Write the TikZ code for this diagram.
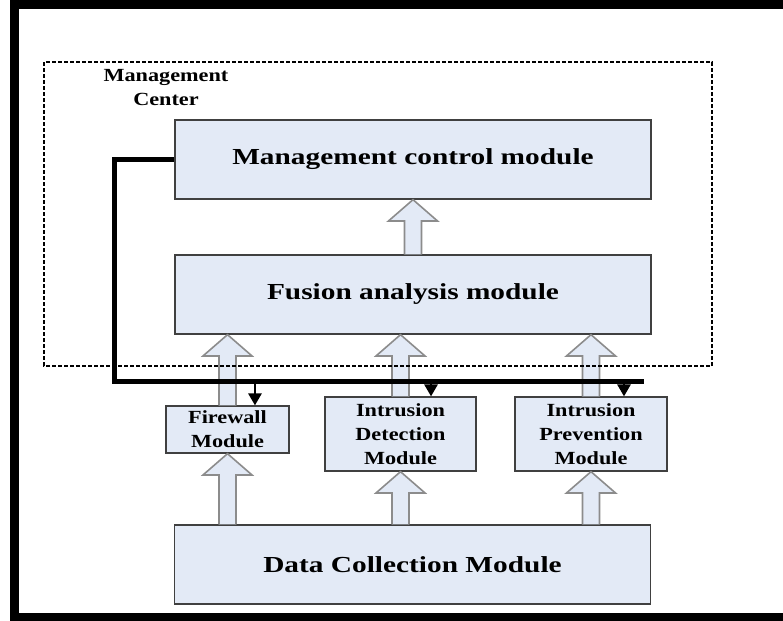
\documentclass[tikz,border=0pt]{standalone}
\usepackage{fontspec}
\usetikzlibrary{calc,arrows.meta}
\newfontfamily\bigserif[FakeStretch=1.28]{Liberation Serif}
\newfontfamily\smallserif[FakeStretch=1.2]{Liberation Serif}
\definecolor{boxfill}{RGB}{227,234,246}
\definecolor{boxline}{RGB}{64,64,64}
\definecolor{arrline}{RGB}{140,140,140}
% hollow block arrow going up from #1 to the tip #2
\newcommand\hollowup[2]{%
  \filldraw[hollow] let \p1=#1, \p2=#2 in
    (\x1-6.4pt,\y1) -- (\x1-6.4pt,\y2-16pt) -- (\x1-18.4pt,\y2-16pt) -- (\x1,\y2)
    -- (\x1+18.4pt,\y2-16pt) -- (\x1+6.4pt,\y2-16pt) -- (\x1+6.4pt,\y1);}
\begin{document}
\begin{tikzpicture}[x=0.75pt,y=-0.75pt,
    bigbox/.style={draw=boxline, fill=boxfill, line width=1pt, inner sep=0pt,
      minimum width=357pt, minimum height=59.25pt, font=\fontsize{17.2}{20}\bigserif\bfseries},
    smallbox/.style={draw=boxline, fill=boxfill, line width=1pt, inner sep=0pt,
      align=center, font=\fontsize{13.9}{18}\smallserif\bfseries},
    hollow/.style={draw=arrline, fill=boxfill, line width=1.2pt},
    bus/.style={line width=3.75pt},
    ctrl/.style={line width=1.5pt, -{Triangle[length=9pt,width=10pt]}}]
        \useasboundingbox (0,0) rectangle (783,621);
        \draw[line width=6.75pt] (790,4.5) -- (14,4.5) -- (14,617) -- (790,617);

        \node[bigbox] (mcm) at (413,159.5) {Management control module};
        \node[bigbox] (fam) at (413,294.5) {Fusion analysis module};
        \node[bigbox] (dcm) at (412.5,564.5) {Data Collection Module};
        \node[smallbox, minimum width=92.25pt, minimum height=35.25pt] (fwm) at (227.5,429.5) {Firewall\\Module};
        \node[smallbox, minimum width=113.25pt, minimum height=55.5pt] (idm) at (400.5,434) {Intrusion\\Detection\\Module};
        \node[smallbox, minimum width=114pt, minimum height=55.5pt] (ipm) at (591,434) {Intrusion\\Prevention\\Module};

        \hollowup{(fam.north)}{(mcm.south)}
        \hollowup{(fwm.north)}{(fwm.north |- fam.south)}
        \hollowup{(idm.north)}{(idm.north |- fam.south)}
        \hollowup{(ipm.north)}{(ipm.north |- fam.south)}
        \hollowup{(fwm.south |- dcm.north)}{(fwm.south)}
        \hollowup{(idm.south |- dcm.north)}{(idm.south)}
        \hollowup{(ipm.south |- dcm.north)}{(ipm.south)}

        \draw[line width=1.8pt, dash pattern=on 3pt off 1.5pt] (44,62) rectangle (712,366);
        \node[align=center, inner sep=0pt, font=\fontsize{13.9}{18}\smallserif\bfseries] (mclabel) at (166,88) {Management\\Center};

        \coordinate (bend) at (114,381);
        \coordinate (busend) at (644,381);
        \draw[bus] (mcm.west) -| (bend) -- (busend);
        \draw[ctrl] ([xshift=20.6pt]fwm.north |- bend) -- ([xshift=20.6pt]fwm.north);
        \draw[ctrl] ([xshift=22.9pt]idm.north |- bend) -- ([xshift=22.9pt]idm.north);
        \draw[ctrl] ([xshift=24.75pt]ipm.north |- bend) -- ([xshift=24.75pt]ipm.north);
    \end{tikzpicture}
\end{document}
